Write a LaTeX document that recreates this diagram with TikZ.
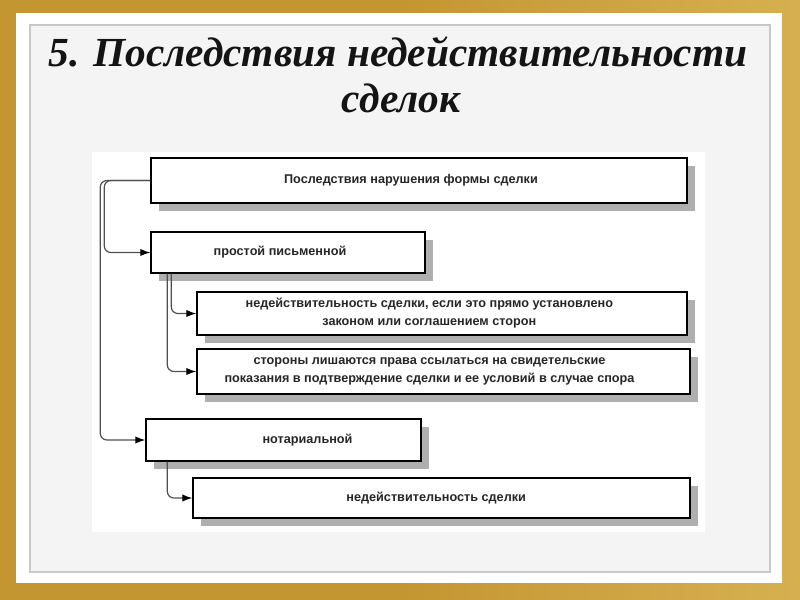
\documentclass[tikz,border=0pt]{standalone}
\usepackage{fontspec}
\newfontfamily\diagfont{Liberation Sans}
\newfontfamily\titlefont{Liberation Serif}
\usetikzlibrary{arrows.meta,shadows,calc}
\definecolor{goldc}{RGB}{196,150,50}
\definecolor{goldl}{RGB}{214,176,80}
\definecolor{panelc}{RGB}{244,244,244}
\definecolor{cardline}{RGB}{200,200,200}
\definecolor{shadowc}{RGB}{175,175,175}
\definecolor{linec}{RGB}{80,80,80}
\definecolor{titlec}{RGB}{20,20,20}
\begin{document}
\begin{tikzpicture}[x=0.75pt,y=-0.75pt,
  box/.style={draw=black, line width=1.1pt, fill=white, align=center, inner sep=0pt,
    font=\diagfont\bfseries\fontsize{9.5}{13.5}\selectfont, text=black!85,
    drop shadow={shadow xshift=6pt, shadow yshift=-6pt, fill=shadowc, opacity=1}},
  conn/.style={draw=linec, line width=0.9pt, rounded corners=5pt, -{Latex[length=7.5pt,width=5.5pt,color=black]}},
  ttl/.style={font=\titlefont\bfseries\itshape\fontsize{31}{37}\selectfont, text=titlec, inner sep=0pt, anchor=base}]
\useasboundingbox (0,0) rectangle (800,600);
% frame
\shade[left color=goldc, right color=goldl, middle color=goldc] (0,0) rectangle (800,600);
\fill[white] (16,13) rectangle (782,583);
\filldraw[fill=panelc, draw=cardline, line width=1.2pt] (30,25) rectangle (770,572);
% title
\node[ttl] (title1) at (398,66) {5. Последствия недействительности};
\node[ttl] (title2) at (401,112) {сделок};
% diagram area
\fill[white] (92,152) rectangle (705,532);
% boxes
\node[box, minimum width=402pt, minimum height=33.75pt] (b1) at (419,180.5)
  {Последствия нарушения формы сделки\hspace*{12pt}};
\node[box, minimum width=205.5pt, minimum height=30.75pt] (b2) at (288,252.5)
  {простой письменной\hspace*{12pt}};
\node[box, minimum width=367.5pt, minimum height=32.25pt] (b3) at (442,313.5)
  {недействительность сделки, если это прямо установлено\hspace*{19pt}\\законом или соглашением сторон\hspace*{19pt}};
\node[box, minimum width=369.75pt, minimum height=33.75pt] (b4) at (443.5,371.5)
  {стороны лишаются права ссылаться на свидетельские\hspace*{21pt}\\показания в подтверждение сделки и ее условий в случае спора\hspace*{21pt}};
\node[box, minimum width=206.25pt, minimum height=31.5pt] (b5) at (283.5,440)
  {\hspace*{36pt}нотариальной};
\node[box, minimum width=372.75pt, minimum height=30pt] (b6) at (441.5,498)
  {недействительность сделки\hspace*{8pt}};
% connectors
\draw[conn] (b1.west) -- ++(-46,0) |- (b2.west);
\draw[conn] (b1.west) -- ++(-50,0) |- (b5.west);
\draw[conn] ($(b2.south west)+(21,0)$) |- (b3.west);
\draw[conn] ($(b2.south west)+(17,0)$) |- (b4.west);
\draw[conn] ($(b5.south west)+(22,0)$) |- (b6.west);
\end{tikzpicture}
\end{document}
